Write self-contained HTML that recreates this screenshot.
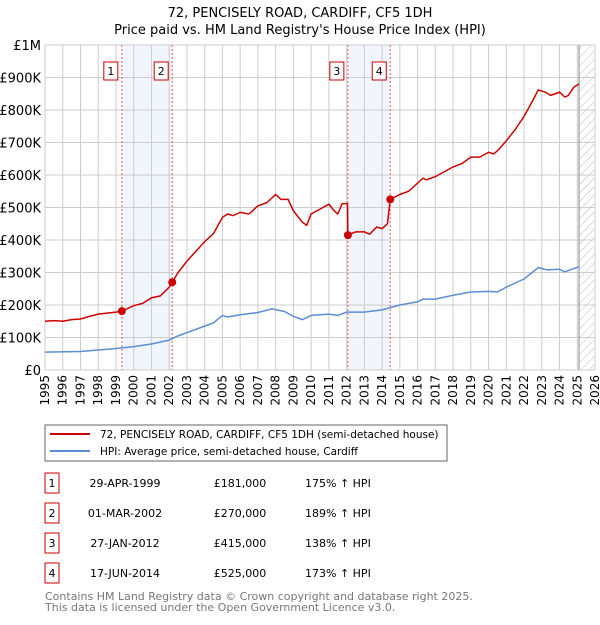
<!DOCTYPE html>
<html><head><meta charset="utf-8"><style>
body{margin:0;background:#fff;font-family:"Liberation Sans","DejaVu Sans",sans-serif;}
svg text{font-family:"DejaVu Sans","Liberation Sans",sans-serif;}
</style></head><body>
<svg id="chart" width="600" height="620" xmlns="http://www.w3.org/2000/svg">
<defs><pattern id="hatch" width="6" height="6" patternUnits="userSpaceOnUse" patternTransform="rotate(45)"><line x1="0" y1="0" x2="0" y2="6" stroke="#bbb" stroke-width="1"/></pattern></defs>
<text x="300" y="17" text-anchor="middle" font-size="13">72, PENCISELY ROAD, CARDIFF, CF5 1DH</text>
<text x="300" y="34" text-anchor="middle" font-size="13">Price paid vs. HM Land Registry's House Price Index (HPI)</text>
<g id="plot"></g>
<rect x="45" y="425" width="402" height="36" fill="#fff" stroke="#666"/>
<line x1="50" y1="434" x2="90" y2="434" stroke="#cc0000" stroke-width="2"/>
<text x="100" y="438" font-size="10.5">72, PENCISELY ROAD, CARDIFF, CF5 1DH (semi-detached house)</text>
<line x1="50" y1="451" x2="90" y2="451" stroke="#5b8ed6" stroke-width="2"/>
<text x="100" y="455" font-size="10.5">HPI: Average price, semi-detached house, Cardiff</text>
<g id="table" font-size="11"></g>
<text x="45" y="600" font-size="11" fill="#777">Contains HM Land Registry data © Crown copyright and database right 2025.</text>
<text x="45" y="611" font-size="11" fill="#777">This data is licensed under the Open Government Licence v3.0.</text>
</svg>
<script>
const priceYears=[1995,1995.5,1996,1996.5,1997,1997.5,1998,1998.5,1999,1999.33,2000,2000.5,2001,2001.5,2002,2002.17,2002.5,2003,2003.5,2004,2004.5,2005,2005.3,2005.6,2006,2006.5,2007,2007.5,2008,2008.3,2008.7,2009,2009.5,2009.75,2010,2010.5,2011,2011.3,2011.5,2011.75,2012.05,2012.07,2012.5,2013,2013.3,2013.7,2014,2014.3,2014.46,2015,2015.5,2016,2016.3,2016.5,2017,2017.5,2018,2018.5,2019,2019.5,2020,2020.3,2020.6,2021,2021.5,2022,2022.5,2022.8,2023.2,2023.5,2024,2024.3,2024.5,2024.8,2025.1];
const priceValues=[150,152,150,155,157,165,172,175,178,181,198,205,222,228,255,270,300,335,365,395,420,470,480,475,485,480,505,515,540,525,525,490,455,445,480,495,510,490,480,512,512,415,425,425,418,440,435,450,525,540,550,575,590,585,595,610,625,635,655,655,670,665,680,705,740,780,830,862,855,845,855,840,845,870,880];
const hpiYears=[1995,1997,1999,2000,2001,2002,2002.5,2003,2004,2004.5,2005,2005.3,2006,2007,2007.8,2008.5,2009,2009.5,2010,2011,2011.5,2012,2013,2014,2015,2016,2016.3,2017,2018,2019,2020,2020.5,2021,2022,2022.8,2023.3,2024,2024.3,2025.1];
const hpiValues=[55,57,66,72,80,92,105,115,135,145,168,163,170,177,188,180,165,155,168,172,168,178,178,185,200,210,218,218,230,240,242,240,255,280,315,308,310,302,318];
const saleLabels=["1","2","3","4"];
const saleYears=[1999.33,2002.17,2012.07,2014.46];
const saleValues=[181,270,415,525];
const saleDates=["29-APR-1999","01-MAR-2002","27-JAN-2012","17-JUN-2014"];
const salePrices=["£181,000","£270,000","£415,000","£525,000"];
const saleHpi=["175% ↑ HPI","189% ↑ HPI","138% ↑ HPI","173% ↑ HPI"];
const yTicks=[0,100,200,300,400,500,600,700,800,900,1000];
const yTickLabels=["£0","£100K","£200K","£300K","£400K","£500K","£600K","£700K","£800K","£900K","£1M"];
const xTicks=[1995,1996,1997,1998,1999,2000,2001,2002,2003,2004,2005,2006,2007,2008,2009,2010,2011,2012,2013,2014,2015,2016,2017,2018,2019,2020,2021,2022,2023,2024,2025,2026];
const X0=45,X1=595,Y0=370,Y1=45;
const xs=y=>X0+(y-1995)/(2026-1995)*(X1-X0);
const ys=v=>Y0-v/1000*(Y0-Y1);
const NS="http://www.w3.org/2000/svg";
const plot=document.getElementById('plot');
function mk(tag,attrs,parent){const e=document.createElementNS(NS,tag);for(const k in attrs)e.setAttribute(k,attrs[k]);(parent||plot).appendChild(e);return e;}
for(let i=0;i<saleYears.length;i+=2){const r=mk('rect',{x:xs(saleYears[i]),y:Y1,width:xs(saleYears[i+1])-xs(saleYears[i]),height:Y0-Y1,fill:'#eef3fc',opacity:0.8});

}
const h=mk('rect',{x:xs(2025.1),y:Y1,width:X1-xs(2025.1),height:Y0-Y1,fill:'url(#hatch)'});


xTicks.forEach(t=>{const l=mk('line',{x1:xs(t),x2:xs(t),y1:Y1,y2:Y0,stroke:'#ccc'});


const tx=mk('text',{x:0,y:0,'font-size':12,'text-anchor':'end',transform:`translate(${xs(t)+4},${Y0+5}) rotate(-90)`});tx.textContent=t;

});
yTicks.forEach((t,i)=>{const l=mk('line',{x1:X0,x2:X1,y1:ys(t),y2:ys(t),stroke:'#ccc'});


const tx=mk('text',{x:41,y:ys(t)+5,'font-size':13,'text-anchor':'end'});tx.textContent=yTickLabels[i];

});
const vl=mk('line',{x1:xs(2025.1),x2:xs(2025.1),y1:Y1,y2:Y0,stroke:'#888','stroke-width':1});


saleYears.forEach((y,i)=>{const l=mk('line',{x1:xs(y),x2:xs(y),y1:Y1,y2:Y0,stroke:'#e55','stroke-dasharray':'2,2','stroke-width':1});


const b=mk('rect',{x:xs(y)-18,y:62,width:14,height:18,fill:'#fff',stroke:'#cc0000'});


const t=mk('text',{x:xs(y)-11,y:75,'font-size':11,'text-anchor':'middle'});t.textContent=saleLabels[i];

});
function line(xa,va,c,name){const p=mk('polyline',{points:xa.map((y,i)=>xs(y)+','+ys(va[i])).join(' '),fill:'none',stroke:c,'stroke-width':1.5});

}
line(hpiYears,hpiValues,'#5b8ed6','hpi-line');
line(priceYears,priceValues,'#cc0000','price-line');
saleYears.forEach((y,i)=>{const c=mk('circle',{cx:xs(y),cy:ys(saleValues[i]),r:4,fill:'#cc0000'});

});
const tb=document.getElementById('table');
saleLabels.forEach((s,i)=>{const cy=483+i*30;
const b=mk('rect',{x:45,y:cy-10,width:14,height:20,fill:'#fff',stroke:'#cc0000'},tb);


const vals=[[52,s,'middle'],[125,saleDates[i],'middle'],[240,salePrices[i],'middle'],[305,saleHpi[i],'start']];
const names=['table-row-number','table-row-date','table-row-price','table-row-hpi'];
vals.forEach((v,j)=>{const t=mk('text',{x:v[0],y:cy+4,'text-anchor':v[2]},tb);t.textContent=v[1];

});});
</script>
</body></html>
